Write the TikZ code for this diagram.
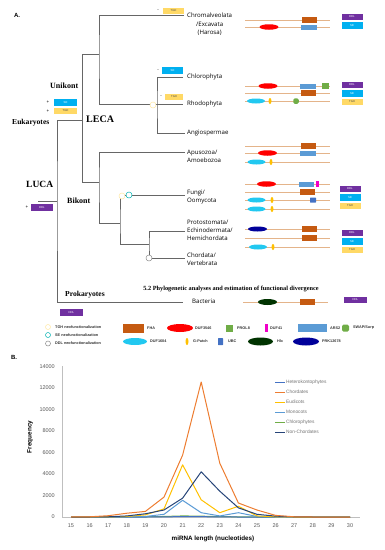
\documentclass[tikz,border=0pt]{standalone}
\usepackage{fontspec}
\setmainfont{Liberation Serif}
\setsansfont{Liberation Sans}
\newfontfamily\taxfont{Open Sans}
\usetikzlibrary{shapes.geometric}

\definecolor{tghc}{HTML}{FFD966}
\definecolor{sec}{HTML}{00B0F0}
\definecolor{ddlc}{HTML}{7030A0}
\definecolor{fhac}{HTML}{C55A11}
\definecolor{dufred}{HTML}{FF0000}
\definecolor{prolc}{HTML}{70AD47}
\definecolor{dufmag}{HTML}{F000C8}
\definecolor{arsc}{HTML}{5B9BD5}
\definecolor{dufcyan}{HTML}{22C8F0}
\definecolor{gpc}{HTML}{FFC000}
\definecolor{ubcc}{HTML}{4472C4}
\definecolor{hlcc}{HTML}{003300}
\definecolor{prkc}{HTML}{00009A}
\definecolor{archc}{HTML}{E4B48A}
\definecolor{hetc}{HTML}{4472C4}
\definecolor{chorc}{HTML}{ED7D31}
\definecolor{eudc}{HTML}{FFC000}
\definecolor{monoc}{HTML}{5B9BD5}
\definecolor{chloc}{HTML}{70AD47}
\definecolor{nchorc}{HTML}{264478}

\begin{document}
\begin{tikzpicture}[x=1pt, y=-1pt,
        font=\sffamily,
        branch/.style={draw=black!60, line width=0.55pt},
        archline/.style={draw=archc, line width=0.9pt},
        tag/.style={rectangle, inner sep=0pt, minimum width=21pt, minimum height=6.5pt, font=\sffamily\fontsize{2.8}{3}\selectfont, text=white},
        ddltag/.style={tag, fill=ddlc},
        setag/.style={tag, fill=sec},
        tghtag/.style={tag, fill=tghc, text=black!70},
        sign/.style={font=\sffamily\fontsize{4.5}{5}\selectfont, inner sep=0pt},
        ring/.style={circle, inner sep=0pt, minimum size=6pt, fill=white, line width=0.5pt},
        tghring/.style={ring, draw=tghc!60!white},
        sering/.style={ring, draw=teal!60!cyan},
        ddlring/.style={ring, draw=black!45},
        taxon/.style={font=\taxfont\fontsize{6.1}{8.4}\selectfont, inner sep=0pt, align=left},
        clade/.style={font=\rmfamily\bfseries\fontsize{8}{9}\selectfont, inner sep=0pt},
        dom/.style={inner sep=0pt, outer sep=0pt},
        fha/.style={dom, rectangle, fill=fhac, minimum width=15pt, minimum height=6pt},
        duf3546/.style={dom, ellipse, fill=dufred, minimum width=19pt, minimum height=5.5pt},
        ars/.style={dom, rectangle, fill=arsc, minimum width=16pt, minimum height=5pt},
        prol/.style={dom, rectangle, fill=prolc, minimum width=7pt, minimum height=6pt},
        duf41/.style={dom, rectangle, fill=dufmag, minimum width=3pt, minimum height=6pt},
        swap/.style={dom, rectangle, rounded corners=1.5pt, fill=prolc, minimum size=5.5pt},
        duf1604/.style={dom, ellipse, fill=dufcyan, minimum width=18pt, minimum height=5pt},
        gpatch/.style={dom, ellipse, fill=gpc, minimum width=3pt, minimum height=6pt},
        ubc/.style={dom, rectangle, rounded corners=0.5pt, fill=ubcc, minimum width=6pt, minimum height=5pt},
        hlc/.style={dom, ellipse, fill=hlcc, minimum width=19pt, minimum height=6pt},
        prk/.style={dom, ellipse, fill=prkc, minimum width=19pt, minimum height=5pt},
        key/.style={font=\sffamily\bfseries\fontsize{3.8}{5}\selectfont, inner sep=0pt, anchor=west, text=black!80},
        tick/.style={font=\sffamily\fontsize{5.5}{6}\selectfont, text=black!65, inner sep=0pt},
        series/.style={line width=1pt, line join=round},
        legtext/.style={font=\sffamily\fontsize{4.8}{5}\selectfont, text=black!55, inner sep=0pt, anchor=west}
    ]
    \useasboundingbox (0,0) rectangle (385,550);

    % Panel A
    \node[font=\sffamily\bfseries\fontsize{6}{7}\selectfont] (labA) at (17,15) {A.};

    % Tree nodes
    \coordinate (root) at (38,201);
    \coordinate (luca) at (57,201);
    \coordinate (euk) at (82,120);
    \coordinate (uni) at (99,54);
    \coordinate (bik) at (99,182);
    \coordinate (pla) at (157,104);
    \coordinate (opi) at (120,223);
    \coordinate (deu) at (149,244);

    % Tips
    \coordinate (tChr) at (184,15);
    \coordinate (tChl) at (183,77);
    \coordinate (tRho) at (183,104);
    \coordinate (tAng) at (185,133);
    \coordinate (tApu) at (185,152);
    \coordinate (tFun) at (185,195);
    \coordinate (tPro) at (185,231);
    \coordinate (tCho) at (185,258);
    \coordinate (tBac) at (183,302);

    % Branches
    \draw[branch] (root) -- (luca);
    \draw[branch] (euk) -| (luca) |- (tBac);
    \draw[branch] (uni) -| (euk |- uni) -- (euk |- bik) -- (bik);
    \draw[branch] (tChr) -| (uni) |- (pla);
    \draw[branch] (tChl) -| (pla) |- (tAng);
    \draw[branch] (pla) -- (tRho);
    \draw[branch] (tApu) -| (bik) |- (opi);
    \draw[branch] (tFun) -| (opi) |- (deu);
    \draw[branch] (tPro) -| (deu) |- (tCho);

    % Neofunctionalization marks
    \node[tghring] (rPla) at (153,105) {};
    \node[tghring] (rOpi) at (122,196) {};
    \node[sering] (rFun) at (129,195) {};
    \node[ddlring] (rCho) at (149,258) {};

    % Clade names
    \node[clade, anchor=west] (nUni) at (50,86) {Unikont};
    \node[clade, anchor=west, font=\rmfamily\bfseries\fontsize{7.6}{9}\selectfont] (nEuk) at (12,123) {Eukaryotes};
    \node[clade, anchor=west, font=\rmfamily\bfseries\fontsize{10}{11}\selectfont] (nLeca) at (86,119) {LECA};
    \node[clade, anchor=west, font=\rmfamily\bfseries\fontsize{9.5}{11}\selectfont] (nLuca) at (26,184) {LUCA};
    \node[clade, anchor=west] (nBik) at (67,201) {Bikont};
    \node[clade, anchor=west, font=\rmfamily\bfseries\fontsize{7.6}{9}\selectfont] (nPro) at (65,295) {Prokaryotes};
    \node[font=\rmfamily\bfseries\fontsize{6.3}{7}\selectfont, inner sep=0pt] (title) at (231,289) {5.2 Phylogenetic analyses and estimation of functional divergence};

    % Taxa
    \node[taxon, anchor=north west, align=center] (xChr) at (187,13) {Chromalveolata\\/Excavata\\(Harosa)};
    \node[taxon, anchor=west] (xChl) at (187,77) {Chlorophyta};
    \node[taxon, anchor=west] (xRho) at (187,104) {Rhodophyta};
    \node[taxon, anchor=west] (xAng) at (187,133) {Angiospermae};
    \node[taxon, anchor=north west] (xApu) at (187,149.5) {Apusozoa/\\Amoebozoa};
    \node[taxon, anchor=north west] (xFun) at (187,189.5) {Fungi/\\Oomycota};
    \node[taxon, anchor=north west] (xPro) at (187,219.5) {Protostomata/\\Echinodermata/\\Hemichordata};
    \node[taxon, anchor=north west] (xCho) at (187,252.5) {Chordata/\\Vertebrata};
    \node[taxon, anchor=west] (xBac) at (192,301) {Bacteria};

    % Gains and losses on the tree
    \node[sign] (mChr) at (158,11) {-};
    \node[tghtag] (gChr) at (173.5,11) {TGH};
    \node[sign] (mChl) at (158,71) {-};
    \node[setag] (gChl) at (172.5,70.5) {SE};
    \node[sign] (mRho) at (161,97) {-};
    \node[tghtag, minimum width=18pt] (gRho) at (174,97) {TGH};
    \node[sign] (pUni1) at (48,102.5) {+};
    \node[sign] (pUni2) at (48,111) {+};
    \node[setag, minimum width=23pt] (gUni1) at (65.5,102.5) {SE};
    \node[tghtag, minimum width=23pt] (gUni2) at (65.5,111) {TGH};
    \node[sign] (pLuca) at (27,207.5) {+};
    \node[ddltag, minimum width=22pt] (gLuca) at (42,207.5) {DDL};
    \node[ddltag, minimum width=23pt] (gPro) at (71.5,312.5) {DDL};

    % Domain architectures
    \foreach \y in {20,27,86,93,101,146,153,162,184,192,200,209,229,238,247}
        \draw[archline] (245,\y) -- (330,\y);
    \draw[archline] (243,302) -- (328,302);

    \node[fha] (c1a) at (309,20) {};
    \node[duf3546] (c2a) at (269,27) {};
    \node[ars] (c2b) at (309,27) {};
    \node[ddltag] (kc1) at (352,17) {DDL};
    \node[setag] (kc2) at (352,25.5) {SE};

    \node[duf3546] (l1a) at (268,86) {};
    \node[ars] (l1b) at (308,86) {};
    \node[prol] (l1c) at (325.5,86) {};
    \node[fha] (l2a) at (308,93) {};
    \node[duf1604] (l3a) at (256,101) {};
    \node[gpatch] (l3b) at (270,101) {};
    \node[swap] (l3c) at (296,101) {};
    \node[ddltag] (kl1) at (352,85) {DDL};
    \node[setag] (kl2) at (352,93.5) {SE};
    \node[tghtag] (kl3) at (352,102) {TGH};

    \node[fha] (a1a) at (308,146) {};
    \node[duf3546] (a2a) at (267.5,153) {};
    \node[ars] (a2b) at (307.5,153) {};
    \node[duf1604] (a3a) at (256.5,162) {};
    \node[gpatch] (a3b) at (271,162) {};

    \node[duf3546] (f1a) at (266.5,184) {};
    \node[ars, minimum width=15pt] (f1b) at (306.5,184) {};
    \node[duf41] (f1c) at (317.5,184) {};
    \node[fha] (f2a) at (307,192) {};
    \node[duf1604] (f3a) at (256.5,200) {};
    \node[gpatch] (f3b) at (272,200) {};
    \node[ubc] (f3c) at (313,200) {};
    \node[duf1604] (f4a) at (256.5,209) {};
    \node[gpatch] (f4b) at (272,209) {};
    \node[ddltag] (kf1) at (350,189) {DDL};
    \node[setag] (kf2) at (350,197.5) {SE};
    \node[tghtag] (kf3) at (350,206) {TGH};

    \node[prk] (p1a) at (257.5,229) {};
    \node[fha] (p1b) at (309.5,229) {};
    \node[fha] (p2a) at (309.5,238) {};
    \node[duf1604] (p3a) at (258,247) {};
    \node[gpatch] (p3b) at (273,247) {};
    \node[ddltag] (kp1) at (352,233) {DDL};
    \node[setag] (kp2) at (352,241.5) {SE};
    \node[tghtag] (kp3) at (352,250) {TGH};

    \node[hlc] (b1a) at (267.5,302) {};
    \node[fha] (b1b) at (307.5,302) {};
    \node[ddltag, minimum width=23pt] (kb1) at (355.5,300) {DDL};

    % Key
    \node[tghring, minimum size=5pt] (kr1) at (48,327) {};
    \node[sering, minimum size=5pt] (kr2) at (48,335) {};
    \node[ddlring, minimum size=5pt] (kr3) at (48,343.5) {};
    \node[key] (kt1) at (55,327) {TGH neofunctionalization};
    \node[key] (kt2) at (55,335) {SE neofunctionalization};
    \node[key] (kt3) at (55,343.5) {DDL neofunctionalization};

    \node[fha, minimum width=21pt, minimum height=9pt] (kd1) at (133.5,328) {};
    \node[key] at (147,328) {FHA};
    \node[duf3546, minimum width=26pt, minimum height=8pt] (kd2) at (180,328) {};
    \node[key] at (195,328) {DUF3546};
    \node[prol, minimum width=7pt, minimum height=7pt] (kd3) at (229.5,328) {};
    \node[key] at (237,328) {PROL8};
    \node[duf41, minimum height=8pt] (kd4) at (266,328) {};
    \node[key] at (270,328) {DUF41};
    \node[ars, minimum width=29pt, minimum height=8pt] (kd5) at (312.5,328) {};
    \node[key] at (330,328) {ARS2};
    \node[swap, minimum size=7pt] (kd6) at (345.5,328) {};
    \node[key] at (353,328) {SWAP/Surp};

    \node[duf1604, minimum width=24pt, minimum height=7pt] (kd7) at (135,341.5) {};
    \node[key] at (150,341.5) {DUF1604};
    \node[gpatch, minimum height=7pt] (kd8) at (187,341.5) {};
    \node[key] at (193,341.5) {G-Patch};
    \node[ubc, minimum width=5pt, minimum height=7pt] (kd9) at (220.5,341.5) {};
    \node[key] at (228,341.5) {UBC};
    \node[hlc, minimum width=25pt, minimum height=8pt] (kd10) at (260.5,341.5) {};
    \node[key] at (277,341.5) {Hlc};
    \node[prk, minimum width=26pt, minimum height=8pt] (kd11) at (306,341.5) {};
    \node[key] at (322,341.5) {PRK12678};

    % Panel B
    \node[font=\sffamily\bfseries\fontsize{6}{7}\selectfont] (labB) at (14,357) {B.};
    \draw[draw=black!25, line width=0.5pt] (62,366) -- (62,517) -- (360,517);
    \foreach \v in {0,2000,...,14000}
        \node[tick, anchor=east] (yt\v) at (55,{517-0.01075*\v}) {\v};
    \foreach \n in {15,...,30}
        \node[tick] (xt\n) at ({71+18.6*(\n-15)},526) {\n};
    \node[font=\sffamily\bfseries\fontsize{6.4}{7}\selectfont, rotate=90] (yTitle) at (30,437) {Frequency};
    \node[font=\sffamily\bfseries\fontsize{6.3}{7}\selectfont] (xTitle) at (213,539) {miRNA length (nucleotides)};

    \begin{scope}[shift={(-208,517)}, x=18.6pt, y=0.01075pt]
        \draw[series, chloc] plot coordinates {(15,0) (16,0) (17,0) (18,0) (19,20) (20,50) (21,100) (22,80) (23,30) (24,20) (25,0) (26,0) (27,0) (28,0) (29,0) (30,0)};
        \draw[series, hetc] plot coordinates {(15,0) (16,0) (17,0) (18,0) (19,0) (20,10) (21,40) (22,30) (23,10) (24,0) (25,0) (26,0) (27,0) (28,0) (29,0) (30,0)};
        \draw[series, monoc] plot coordinates {(15,0) (16,0) (17,0) (18,10) (19,50) (20,250) (21,1550) (22,400) (23,100) (24,400) (25,50) (26,0) (27,0) (28,0) (29,0) (30,0)};
        \draw[series, eudc] plot coordinates {(15,0) (16,0) (17,10) (18,50) (19,200) (20,750) (21,4850) (22,1600) (23,400) (24,1000) (25,100) (26,20) (27,0) (28,0) (29,0) (30,0)};
        \draw[series, nchorc] plot coordinates {(15,0) (16,0) (17,20) (18,100) (19,300) (20,650) (21,1750) (22,4200) (23,2400) (24,850) (25,250) (26,80) (27,20) (28,0) (29,0) (30,0)};
        \draw[series, chorc] plot coordinates {(15,0) (16,20) (17,120) (18,350) (19,520) (20,1850) (21,5750) (22,12550) (23,5000) (24,1300) (25,650) (26,150) (27,20) (28,0) (29,0) (30,0)};
    \end{scope}

    % Chart legend
    \foreach \i/\c/\t in {0/hetc/Heterokontophytes, 1/chorc/Chordates, 2/eudc/Eudicots, 3/monoc/Monocots, 4/chloc/Chlorophytes, 5/nchorc/Non-Chordates} {
        \draw[series, \c] (275,{382+10*\i}) -- (285,{382+10*\i});
        \node[legtext] (leg\i) at (286,{382+10*\i}) {\t};
    }

\end{tikzpicture}
\end{document}
